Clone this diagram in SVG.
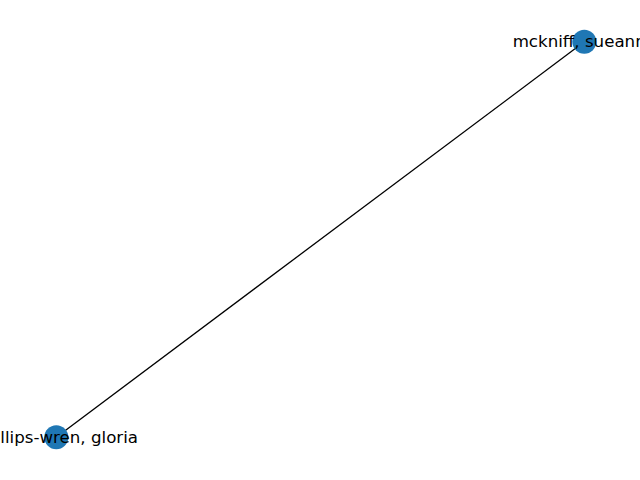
<svg xmlns="http://www.w3.org/2000/svg" width="640" height="480" viewBox="0 0 640 480">
<style>
.node{fill:#1f77b4;}
.lbl{font-family:"DejaVu Sans",sans-serif;font-size:16.67px;fill:#000;text-anchor:middle;dominant-baseline:central;}
.edge{stroke:#000;stroke-width:1.3;fill:none;}
</style>
<rect width="640" height="480" fill="#fff"/>
<g id="edges">
<line class="edge" x1="584.3" y1="41.8" x2="56.3" y2="437.2"/>
</g>
<g id="n1">
<circle class="node" cx="584.3" cy="41.8" r="12"/>
<text class="lbl" x="584.3" y="41.8">mckniff, sueanne</text>
</g>
<g id="n2">
<circle class="node" cx="56.3" cy="437.2" r="12"/>
<text class="lbl" x="56.3" y="437.2">phillips-wren, gloria</text>
</g>
</svg>
